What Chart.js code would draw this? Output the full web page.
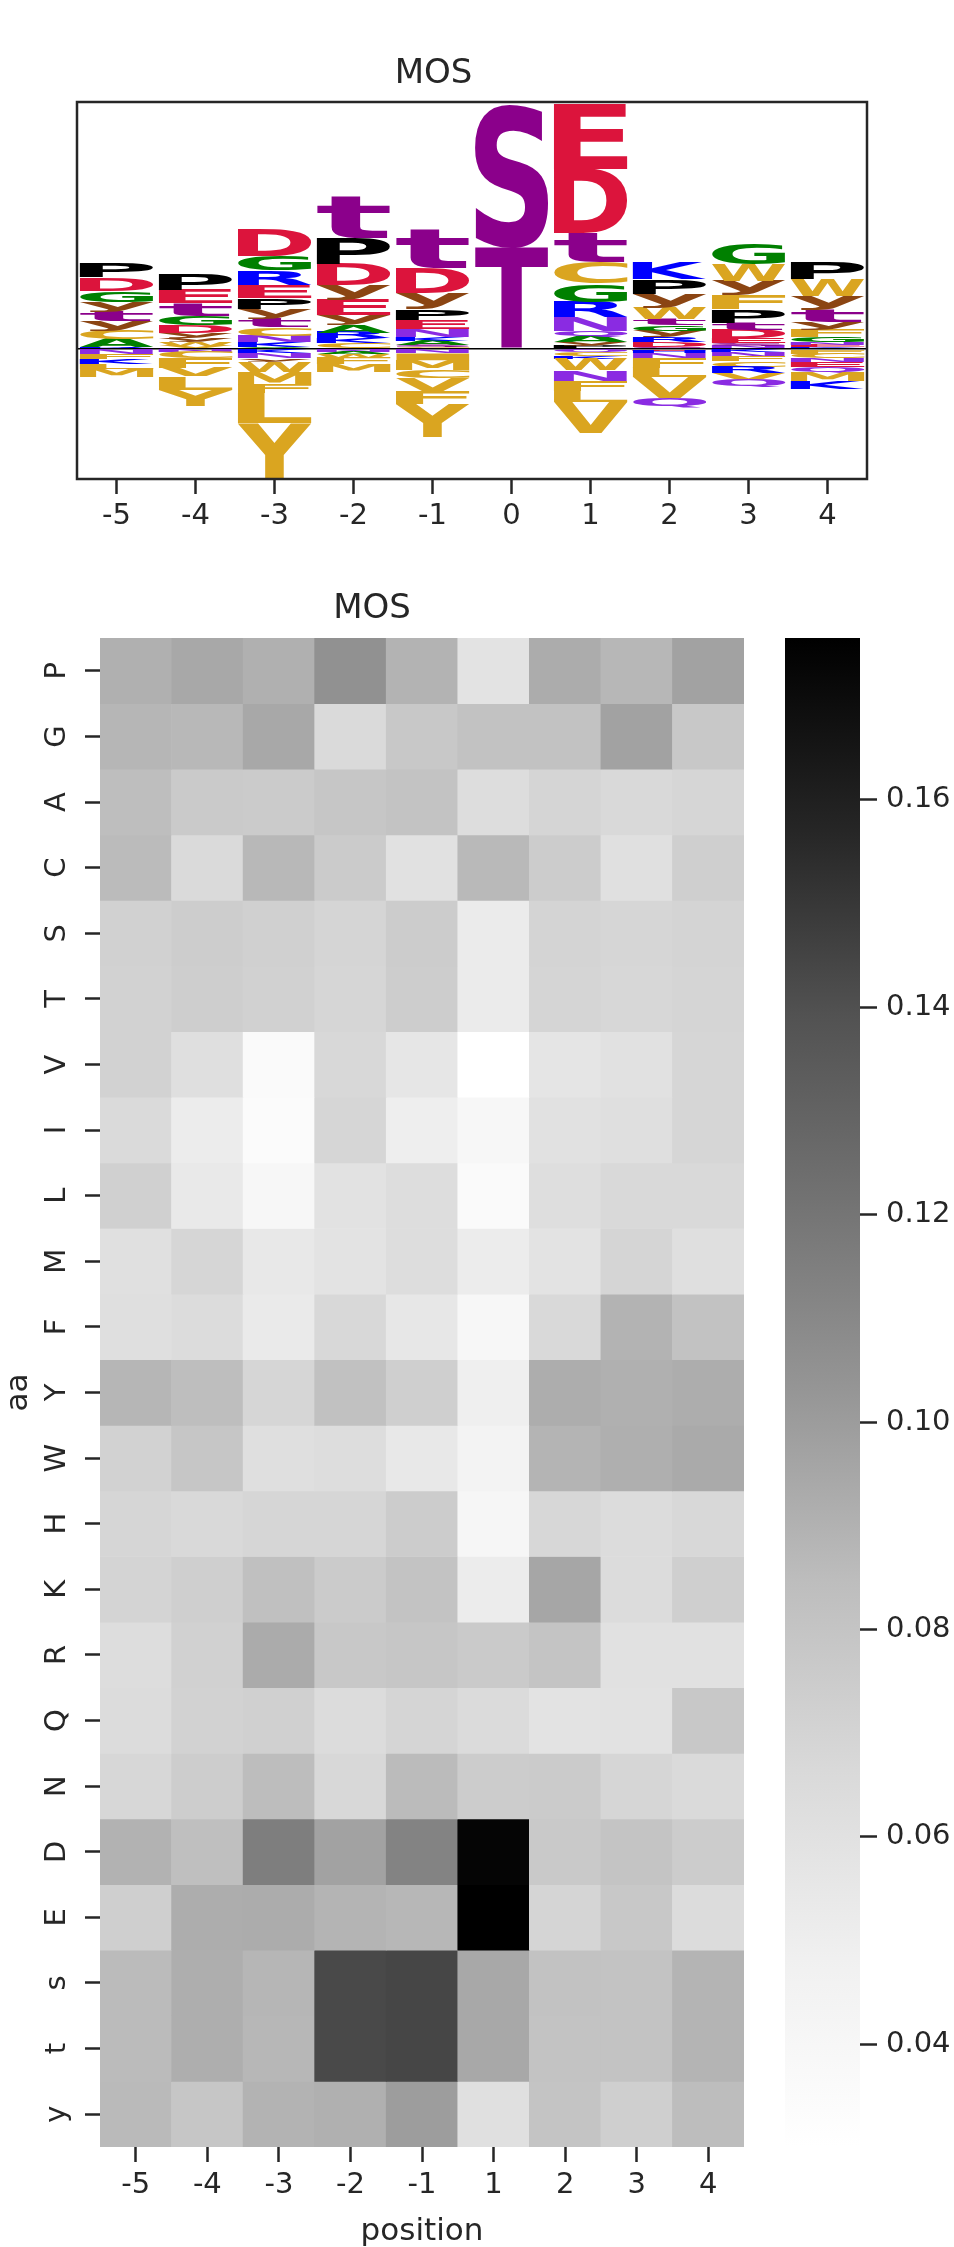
<!DOCTYPE html>
<html>
<head>
<meta charset="utf-8">
<script src="https://cdn.jsdelivr.net/npm/chart.js@4.4.1/dist/chart.umd.min.js"></script>
<style>
  html, body { margin: 0; padding: 0; background: #fff; overflow: hidden; }
  body { width: 954px; height: 2247px; position: relative; }
  canvas { position: absolute; }
</style>
</head>
<body>
<canvas id="logo" width="954" height="560" style="left:0;top:0"></canvas>
<canvas id="heat" width="760" height="1700" style="left:0;top:560px"></canvas>
<canvas id="cbar" width="194" height="1700" style="left:760px;top:560px"></canvas>
<script>
'use strict';

// ---- logo data ----
let logoPositions = ['-5', '-4', '-3', '-2', '-1', '0', '1', '2', '3', '4'];

// letters above zero, from the zero line upward
let upLetters = [
  ['R', 'A', 'C', 'y', 't', 'y', 'G', 'D', 'P'],
  ['V', 'W', 'y', 'y', 'D', 'G', 't', 'E', 'P'],
  ['A', 'K', 'N', 'C', 't', 'y', 'P', 'E', 'R', 'G', 'D'],
  ['C', 'K', 'R', 'A', 'y', 'E', 'y', 'D', 'P', 't'],
  ['C', 'S', 'A', 'K', 'N', 'E', 'P', 'y', 'D', 't'],
  ['T', 'S'],
  ['P', 'y', 'A', 'Q', 'N', 'R', 'G', 'C', 't', 'D', 'E'],
  ['S', 'D', 'R', 'y', 'G', 't', 'W', 'y', 'P', 'K'],
  ['N', 'S', 'E', 'D', 't', 'P', 'F', 'y', 'W', 'G'],
  ['K', 'E', 'N', 'G', 'F', 'y', 't', 'y', 'W', 'P']
];
let upHeights = [
  [.007, .034, .036, .036, .038, .040, .045, .054, .057],
  [.011, .016, .016, .022, .032, .038, .050, .055, .062],
  [.009, .018, .027, .034, .036, .040, .043, .054, .057, .058, .111],
  [.023, .020, .023, .031, .040, .063, .058, .088, .104, .169],
  [.008, .008, .018, .016, .030, .038, .043, .067, .101, .155],
  [.410, .584],
  [.012, .015, .023, .023, .057, .061, .073, .089, .115, .262, .265],
  [.009, .020, .020, .024, .023, .024, .047, .057, .058, .067],
  [.011, .012, .020, .036, .028, .054, .057, .058, .067, .081],
  [.007, .011, .009, .020, .030, .031, .050, .057, .067, .070]
];

// letters below zero, from the zero line downward
let downLetters = [
  ['N', 'F', 'K', 'L', 'M'],
  ['N', 'C', 'F', 'V', 'L', 'Y'],
  ['K', 'N', 'y', 'W', 'M', 'F', 'L', 'Y'],
  ['N', 'A', 'W', 'F', 'M'],
  ['N', 'I', 'M', 'C', 'V', 'F', 'Y'],
  [],
  ['Q', 'C', 'K', 'W', 'N', 'F', 'L', 'V'],
  ['E', 'H', 'N', 'F', 'L', 'V', 'Q'],
  ['K', 'N', 'F', 'C', 'R', 'V', 'Q'],
  ['F', 'C', 'N', 'E', 'Q', 'M', 'K']
];
let downHeights = [
  [.022, .019, .020, .020, .034],
  [.013, .024, .040, .034, .054, .065],
  [.018, .020, .013, .040, .054, .034, .121, .223],
  [.011, .011, .016, .024, .030],
  [.018, .027, .040, .034, .050, .054, .132],
  [],
  [.016, .013, .011, .045, .043, .040, .045, .126],
  [.009, .008, .018, .040, .040, .084, .040],
  [.013, .018, .019, .022, .026, .027, .028],
  [.019, .019, .016, .020, .022, .034, .032]
];

let letterColors = {
  P: '#000000', G: '#008000', A: '#008000',
  D: '#dc143c', E: '#dc143c',
  S: '#8b008b', T: '#8b008b', s: '#8b008b', t: '#8b008b',
  y: '#8b4513',
  K: '#0000ff', R: '#0000ff', H: '#0000ff',
  N: '#8a2be2', Q: '#8a2be2',
  C: '#daa520', V: '#daa520', I: '#daa520', L: '#daa520',
  M: '#daa520', F: '#daa520', Y: '#daa520', W: '#daa520'
};

// ---- heatmap data ----
let heatPositions = ['-5', '-4', '-3', '-2', '-1', '1', '2', '3', '4'];
let aaRows = ['P', 'G', 'A', 'C', 'S', 'T', 'V', 'I', 'L', 'M', 'F', 'Y', 'W', 'H', 'K', 'R', 'Q', 'N', 'D', 'E', 's', 't', 'y'];
let heatValues = [
  [0.0908, 0.0946, 0.0908, 0.1056, 0.0894, 0.0586, 0.0927, 0.0876, 0.0974], // P
  [0.0880, 0.0871, 0.0946, 0.0657, 0.0776, 0.0815, 0.0815, 0.0974, 0.0776], // G
  [0.0841, 0.0763, 0.0756, 0.0789, 0.0808, 0.0633, 0.0691, 0.0665, 0.0685], // A
  [0.0857, 0.0657, 0.0871, 0.0756, 0.0602, 0.0866, 0.0750, 0.0609, 0.0730], // C
  [0.0717, 0.0743, 0.0724, 0.0691, 0.0750, 0.0522, 0.0698, 0.0685, 0.0698], // S
  [0.0711, 0.0737, 0.0717, 0.0685, 0.0743, 0.0522, 0.0691, 0.0678, 0.0691], // T
  [0.0711, 0.0617, 0.0361, 0.0672, 0.0562, 0.0300, 0.0570, 0.0602, 0.0685], // V
  [0.0657, 0.0514, 0.0350, 0.0685, 0.0498, 0.0397, 0.0602, 0.0617, 0.0685], // I
  [0.0724, 0.0538, 0.0397, 0.0594, 0.0633, 0.0361, 0.0625, 0.0665, 0.0665], // L
  [0.0609, 0.0685, 0.0546, 0.0586, 0.0633, 0.0514, 0.0586, 0.0691, 0.0617], // M
  [0.0617, 0.0641, 0.0530, 0.0672, 0.0554, 0.0397, 0.0665, 0.0894, 0.0815], // F
  [0.0880, 0.0841, 0.0685, 0.0821, 0.0730, 0.0490, 0.0922, 0.0908, 0.0922], // Y
  [0.0711, 0.0789, 0.0617, 0.0633, 0.0546, 0.0446, 0.0890, 0.0913, 0.0936], // W
  [0.0685, 0.0665, 0.0685, 0.0685, 0.0750, 0.0410, 0.0678, 0.0641, 0.0672], // H
  [0.0698, 0.0730, 0.0828, 0.0756, 0.0808, 0.0514, 0.0955, 0.0641, 0.0730], // K
  [0.0633, 0.0717, 0.0932, 0.0776, 0.0789, 0.0763, 0.0802, 0.0602, 0.0602], // R
  [0.0641, 0.0711, 0.0724, 0.0641, 0.0691, 0.0649, 0.0586, 0.0594, 0.0776], // Q
  [0.0678, 0.0743, 0.0848, 0.0672, 0.0857, 0.0750, 0.0756, 0.0685, 0.0657], // N
  [0.0899, 0.0834, 0.1155, 0.0974, 0.1129, 0.1730, 0.0769, 0.0802, 0.0750], // D
  [0.0730, 0.0922, 0.0927, 0.0890, 0.0876, 0.1756, 0.0691, 0.0776, 0.0641], // E
  [0.0857, 0.0918, 0.0880, 0.1427, 0.1440, 0.0946, 0.0815, 0.0808, 0.0890], // s
  [0.0857, 0.0918, 0.0876, 0.1427, 0.1440, 0.0946, 0.0808, 0.0808, 0.0890], // t
  [0.0862, 0.0789, 0.0894, 0.0908, 0.0997, 0.0609, 0.0802, 0.0730, 0.0848]  // y
];

let cbarMin = 0.0301;
let cbarMax = 0.1756;
let cbarTicks = [0.04, 0.06, 0.08, 0.10, 0.12, 0.14, 0.16];

// matplotlib Greys
let greysStops = [[0, 255], [0.125, 240], [0.25, 217], [0.375, 189], [0.5, 150], [0.625, 115], [0.75, 82], [0.875, 37], [1, 0]];

const FONT = 'DejaVu Sans';
const INK = '#262626';

function greys(v) {
  let t = (v - cbarMin) / (cbarMax - cbarMin);
  t = Math.max(0, Math.min(1, t));
  for (let i = 1; i < greysStops.length; i++) {
    let a = greysStops[i - 1], b = greysStops[i];
    if (t <= b[0]) {
      let g = Math.round(a[1] + (b[1] - a[1]) * (t - a[0]) / (b[0] - a[0]));
      return 'rgb(' + g + ',' + g + ',' + g + ')';
    }
  }
  return 'rgb(0,0,0)';
}

// ---------------- logo ----------------
let logoDatasets = [];
let maxUp = Math.max(...upLetters.map(l => l.length));
for (let k = 0; k < maxUp; k++) {
  logoDatasets.push({
    data: upHeights.map(h => h[k] !== undefined ? h[k] : null),
    letters: upLetters.map(l => l[k] || ''),
    backgroundColor: 'rgba(0,0,0,0)'
  });
}
let maxDown = Math.max(...downLetters.map(l => l.length));
for (let k = 0; k < maxDown; k++) {
  logoDatasets.push({
    data: downHeights.map(h => h[k] !== undefined ? -h[k] : null),
    letters: downLetters.map(l => l[k] || ''),
    backgroundColor: 'rgba(0,0,0,0)'
  });
}

// draws each bar as a stretched letter
const letterPlugin = {
  id: 'letters',
  afterDatasetsDraw(chart) {
    let ctx = chart.ctx;
    ctx.save();
    ctx.font = 'bold 200px "' + FONT + '"';
    ctx.textAlign = 'left';
    ctx.textBaseline = 'alphabetic';
    chart.data.datasets.forEach((ds, di) => {
      let meta = chart.getDatasetMeta(di);
      meta.data.forEach((bar, i) => {
        let ch = ds.letters[i];
        if (!ch || ds.data[i] == null) return;
        let p = bar.getProps(['x', 'y', 'base', 'width'], true);
        let top = Math.min(p.y, p.base);
        let h = Math.abs(p.base - p.y);
        if (h < 0.4) return;
        let m = ctx.measureText(ch);
        let gl = m.actualBoundingBoxLeft, gr = m.actualBoundingBoxRight;
        let ga = m.actualBoundingBoxAscent, gd = m.actualBoundingBoxDescent;
        ctx.save();
        ctx.translate(p.x - p.width / 2, top);
        ctx.scale(p.width / (gl + gr), h / (ga + gd));
        ctx.fillStyle = letterColors[ch];
        ctx.fillText(ch, gl, ga);
        ctx.restore();
      });
    });
    ctx.restore();
  }
};

const boxPlugin = {
  id: 'box',
  afterDraw(chart) {
    let a = chart.chartArea, ctx = chart.ctx;
    ctx.save();
    ctx.strokeStyle = INK;
    ctx.lineWidth = 2.5;
    ctx.strokeRect(a.left, a.top, a.right - a.left, a.bottom - a.top);
    ctx.restore();
  }
};

new Chart(document.getElementById('logo'), {
  type: 'bar',
  data: { labels: logoPositions, datasets: logoDatasets },
  options: {
    responsive: false,
    animation: false,
    layout: { padding: { left: 0, right: 87, top: 0, bottom: 0 } },
    datasets: { bar: { barPercentage: 0.93, categoryPercentage: 1.0, borderWidth: 0 } },
    plugins: {
      legend: { display: false },
      tooltip: { enabled: false },
      title: {
        display: true, text: 'MOS', color: INK,
        font: { family: FONT, size: 34, weight: 'normal' },
        padding: { top: 54.2, bottom: 7 }
      }
    },
    scales: {
      x: {
        stacked: true,
        offset: true,
        afterFit: s => { s.height = 81; },
        grid: { offset: false, drawOnChartArea: false, drawTicks: true, tickLength: 15, tickWidth: 2.5, tickColor: INK, color: INK },
        border: { display: false },
        ticks: { color: INK, padding: 5, font: { family: FONT, size: 29 } }
      },
      y: {
        stacked: true,
        min: -0.526,
        max: 1.0,
        afterFit: s => { s.width = 77; },
        afterBuildTicks: s => { s.ticks = [{ value: 0 }]; },
        grid: { color: '#000000', lineWidth: 1.5, drawTicks: false },
        border: { display: false },
        ticks: { display: false }
      }
    }
  },
  plugins: [letterPlugin, boxPlugin]
});

// ---------------- heatmap ----------------
let heatDatasets = aaRows.map((aa, r) => ({
  label: aa,
  data: heatPositions.map(() => 1),
  backgroundColor: heatValues[r].map(greys),
  borderWidth: 0
}));

new Chart(document.getElementById('heat'), {
  type: 'bar',
  data: { labels: heatPositions, datasets: heatDatasets },
  options: {
    responsive: false,
    animation: false,
    layout: { padding: { left: 0, right: 16, top: 0, bottom: 0 } },
    datasets: { bar: { barPercentage: 1.0, categoryPercentage: 1.0 } },
    plugins: {
      legend: { display: false },
      tooltip: { enabled: false },
      title: {
        display: true, text: 'MOS', color: INK,
        font: { family: FONT, size: 34, weight: 'normal' },
        padding: { top: 28.6, bottom: 8.6 }
      }
    },
    scales: {
      x: {
        stacked: true,
        offset: true,
        afterFit: s => { s.height = 113; },
        grid: { offset: false, drawOnChartArea: false, drawTicks: true, tickLength: 15, tickWidth: 2.5, tickColor: INK, color: INK },
        border: { display: false },
        ticks: { color: INK, padding: 6, font: { family: FONT, size: 29 } },
        title: { display: true, text: 'position', color: INK, font: { family: FONT, size: 31 }, padding: { top: 0, bottom: 9 } }
      },
      y: {
        stacked: true,
        reverse: true,
        min: 0,
        max: aaRows.length,
        afterFit: s => { s.width = 100; },
        afterBuildTicks: s => { s.ticks = aaRows.map((a, i) => ({ value: i + 0.5 })); },
        grid: { drawOnChartArea: false, drawTicks: true, tickLength: 15, tickWidth: 2.5, tickColor: INK, color: INK },
        border: { display: false },
        ticks: {
          color: INK, padding: 13, minRotation: 90, maxRotation: 90, crossAlign: 'center',
          font: { family: FONT, size: 29 },
          callback: (v, i) => aaRows[i]
        },
        title: { display: true, text: 'aa', color: INK, font: { family: FONT, size: 31 }, padding: { top: 0, bottom: 0 } }
      }
    }
  }
});

// ---------------- colorbar ----------------
const gradientPlugin = {
  id: 'gradient',
  beforeDatasetsDraw(chart) {
    let a = chart.chartArea, ctx = chart.ctx, y = chart.scales.y;
    let g = ctx.createLinearGradient(0, y.getPixelForValue(cbarMin), 0, y.getPixelForValue(cbarMax));
    greysStops.forEach(s => g.addColorStop(s[0], 'rgb(' + s[1] + ',' + s[1] + ',' + s[1] + ')'));
    ctx.save();
    ctx.fillStyle = g;
    ctx.fillRect(a.left, a.top, a.right - a.left, a.bottom - a.top);
    ctx.restore();
  }
};

new Chart(document.getElementById('cbar'), {
  type: 'scatter',
  data: { datasets: [] },
  options: {
    responsive: false,
    animation: false,
    layout: { padding: { left: 25, right: 0, top: 78, bottom: 113 } },
    plugins: { legend: { display: false }, tooltip: { enabled: false } },
    scales: {
      x: { display: false },
      y: {
        position: 'right',
        min: cbarMin,
        max: cbarMax,
        afterFit: s => { s.width = 94; },
        afterBuildTicks: s => { s.ticks = cbarTicks.map(v => ({ value: v })); },
        grid: { drawOnChartArea: false, drawTicks: true, tickLength: 17, tickWidth: 2.5, tickColor: INK, color: INK },
        border: { display: false },
        ticks: { color: INK, padding: 9, font: { family: FONT, size: 29 }, callback: v => v.toFixed(2) }
      }
    }
  },
  plugins: [gradientPlugin]
});
</script>
</body>
</html>
